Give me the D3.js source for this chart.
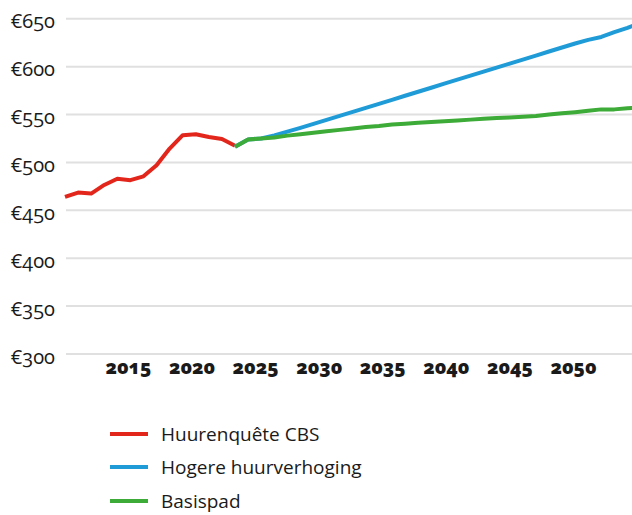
<!DOCTYPE html>
<html>
<head>
<meta charset="utf-8">
<script src="https://cdn.jsdelivr.net/npm/d3@7"></script>
<style>
  html, body { margin: 0; padding: 0; background: #fff; }
  svg { display: block; }
  text { font-family: "Open Sans", "Noto Sans", sans-serif; fill: #1a1a1a; font-variant-numeric: oldstyle-nums; font-feature-settings: "onum" 1; }
</style>
</head>
<body>
<svg id="chart" width="632" height="515"></svg>
<script>
// ---- data ----
const histYears = [2010,2011,2012,2013,2014,2015,2016,2017,2018,2019,2020,2021,2022,2023];
const huurenquete = [463.5,468,467,476,482.5,481,485,496.5,514,528,529,526,524,517];

const projYears = [2023,2024,2025,2026,2027,2028,2029,2030,2031,2032,2033,2034,2035,2036,2037,2038,
                   2039,2040,2041,2042,2043,2044,2045,2046,2047,2048,2049,2050,2051,2052,2053,2054];
const hogere = [516,523.5,524.5,527.8,531.6,535.6,539.7,543.9,548.1,552.3,556.5,560.7,564.9,569.1,573.3,577.5,
                581.7,585.9,590.1,594.3,598.5,602.7,606.9,611.1,615.3,619.5,623.7,627.5,630.5,635.5,640,645];
const basispad = [516,523.5,524.5,525.5,527.5,529,530.5,532,533.5,535,536.5,537.5,539,540,541,541.8,
                  542.6,543.4,544.2,545,545.8,546.5,547.1,548,549.5,550.8,552,553.5,554.9,554.9,556,557.3];

const yTicks = [300,350,400,450,500,550,600,650];
const xTicks = [2015,2020,2025,2030,2035,2040,2045,2050];

const seriesNames = ["Huurenquête CBS","Hogere huurverhoging","Basispad"];
const seriesColors = ["#e3261c","#1f9bd7","#3dab37"];

// ---- layout ----
const W = 632, H = 515;
const plotL = 66, plotR = 632, plotT = 18.3, plotB = 353.5;

const svg = d3.select("#chart");

const x = d3.scaleLinear().domain([2010, 2054]).range([65, 65 + 44 * 13.08]);
const xLab = d3.scaleLinear().domain([2015, 2050]).range([128, 573]);
const y = d3.scaleLinear().domain([300, 650]).range([plotB, plotT]);

// gridlines + y labels
const yAxis = d3.axisLeft(y).tickValues(yTicks)
  .tickFormat(d => "€" + d)
  .tickSize(-(plotR - plotL)).tickPadding(11);
const gy = svg.append("g").attr("transform", `translate(${plotL},0)`).call(yAxis);
gy.select(".domain").remove();
gy.selectAll(".tick line").attr("stroke", "#e0e0e0").attr("stroke-width", 2);
gy.selectAll(".tick text").attr("dy", 9.5)
  .style("font-size", "20px").style("font-family", "'Open Sans', sans-serif").attr("fill", "#1a1a1a");

// x labels
const xAxis = d3.axisBottom(xLab).tickValues(xTicks).tickFormat(d3.format("d")).tickSize(0).tickPadding(0);
const gx = svg.append("g").attr("transform", `translate(0,374)`).call(xAxis);
gx.select(".domain").remove();
gx.selectAll(".tick text").attr("dy", 0).attr("y", 0)
  .style("font-size", "19px").style("font-weight", "800").style("font-family", "'Open Sans', sans-serif").attr("fill", "#111");

// clip
svg.append("clipPath").attr("id", "clip").append("rect")
  .attr("x", 0).attr("y", 0).attr("width", plotR).attr("height", H);

const line = d3.line().x(d => x(d[0])).y(d => y(d[1]));
const lines = svg.append("g").attr("clip-path", "url(#clip)");

const data = [
  histYears.map((yr, i) => [yr, huurenquete[i]]),
  projYears.map((yr, i) => [yr, hogere[i]]),
  projYears.map((yr, i) => [yr, basispad[i]])
];
data.forEach((d, i) => {
  lines.append("path").datum(d).attr("d", line)
    .attr("fill", "none").attr("stroke", seriesColors[i])
    .attr("stroke-width", 4).attr("stroke-linejoin", "round");
});

// legend
const legY = [434, 467, 501];
const leg = svg.append("g");
seriesNames.forEach((name, i) => {
  leg.append("line").attr("x1", 110).attr("x2", 148).attr("y1", legY[i]).attr("y2", legY[i])
    .attr("stroke", seriesColors[i]).attr("stroke-width", 4);
  leg.append("text").attr("x", 161).attr("y", legY[i]).attr("dy", "0.35em")
    .style("font-size", "19px").text(name);
});
</script>
</body>
</html>
